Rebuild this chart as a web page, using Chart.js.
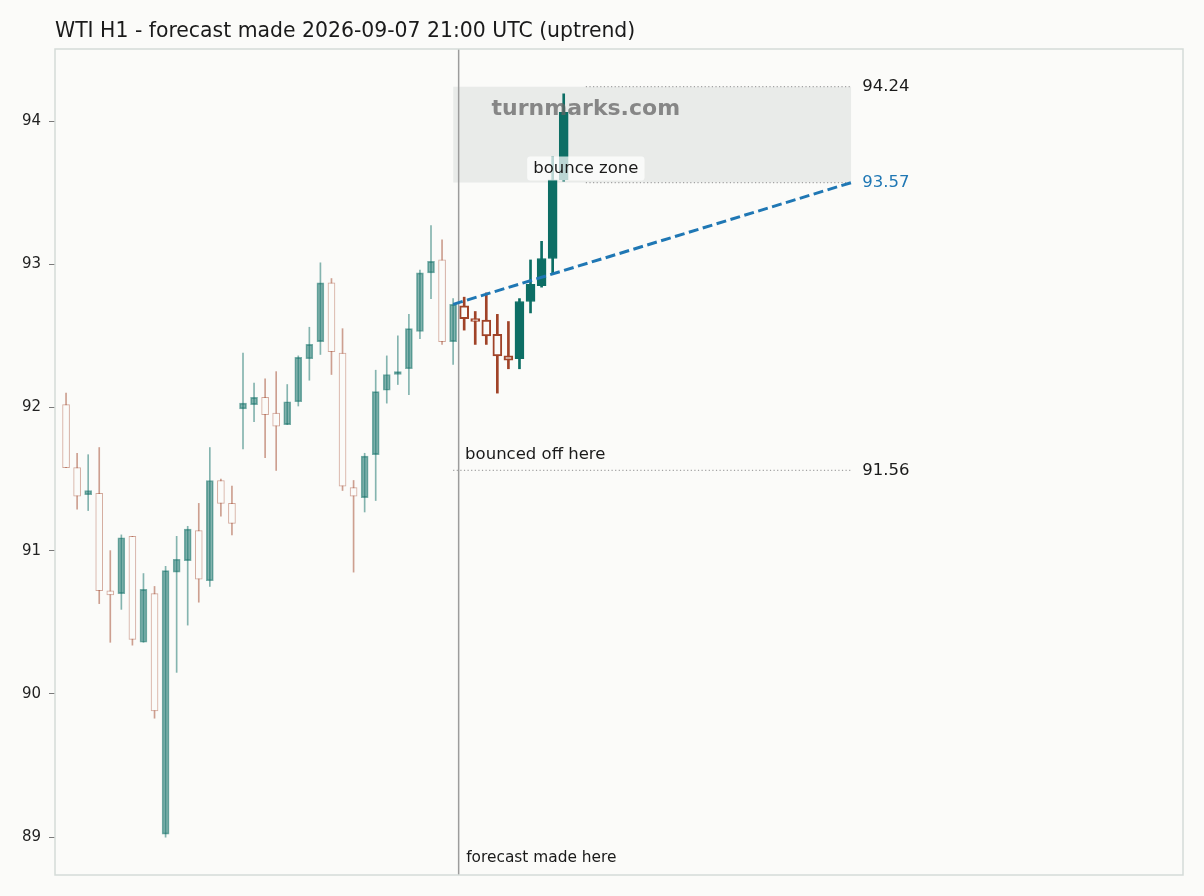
<!DOCTYPE html>
<html>
<head>
<meta charset="utf-8">
<title>WTI H1 forecast</title>
<script src="https://cdn.jsdelivr.net/npm/chart.js@4.4.1/dist/chart.umd.min.js"></script>
<style>
  html, body { margin: 0; padding: 0; background: #fbfbf9; }
  canvas { display: block; }
</style>
</head>
<body>
<canvas id="chart" width="1204" height="896"></canvas>
<script>
// H1 candles, bar index on x. Bars from forecastFrom on are the forecast.
const open  = [92.02, 91.58, 91.39, 91.40, 90.72, 90.70, 91.10, 90.36, 90.70, 89.02,
               90.85, 90.93, 91.14, 90.79, 91.49, 91.33, 91.99, 92.02, 92.07, 91.96,
               91.88, 92.04, 92.34, 92.46, 92.87, 92.38, 91.44, 91.37, 91.67, 92.12,
               92.23, 92.27, 92.53, 92.94, 93.03, 92.46,
               92.71, 92.62, 92.61, 92.51, 92.36, 92.34, 92.74, 92.85, 93.04, 93.59];
const high  = [92.10, 91.68, 91.67, 91.72, 91.00, 91.11, 91.10, 90.84, 90.75, 90.89,
               91.10, 91.17, 91.33, 91.72, 91.50, 91.45, 92.38, 92.17, 92.20, 92.25,
               92.16, 92.36, 92.56, 93.01, 92.90, 92.55, 91.49, 91.68, 92.26, 92.36,
               92.50, 92.65, 92.96, 93.27, 93.17, 92.76,
               92.77, 92.67, 92.80, 92.65, 92.60, 92.76, 93.03, 93.16, 93.75, 94.19];
const low   = [91.58, 91.29, 91.28, 90.63, 90.36, 90.59, 90.34, 90.36, 89.83, 89.00,
               90.15, 90.48, 90.64, 90.75, 91.24, 91.11, 91.71, 91.90, 91.65, 91.56,
               91.88, 92.01, 92.19, 92.37, 92.23, 91.42, 90.85, 91.27, 91.35, 92.03,
               92.16, 92.09, 92.48, 92.76, 92.44, 92.30,
               92.54, 92.44, 92.44, 92.10, 92.27, 92.27, 92.66, 92.84, 92.94, 93.58];
const close = [91.58, 91.38, 91.42, 90.72, 90.69, 91.09, 90.38, 90.73, 89.88, 90.86,
               90.94, 91.15, 90.80, 91.49, 91.33, 91.19, 92.03, 92.07, 91.95, 91.87,
               92.04, 92.35, 92.44, 92.87, 92.39, 91.45, 91.38, 91.66, 92.11, 92.23,
               92.25, 92.55, 92.94, 93.02, 92.46, 92.72,
               92.62, 92.60, 92.50, 92.36, 92.33, 92.74, 92.86, 93.04, 93.59, 94.06];
const forecastFrom = 36;
const forecastLineAt = 35.5;

const yTicks = [89, 90, 91, 92, 93, 94];
const zoneTop = 94.24;
const zoneBottom = 93.57;
const bounceLevel = 91.56;
const zoneX = [35, 71];
const levelLineX = [47, 71];
const trendX = [35, 71];
const trendY = [92.72, 93.57];

const BG = '#fbfbf9';
const TEAL = '13,110,101';
const RED = '160,67,40';
const FONT = "'DejaVu Sans', sans-serif";

function candleSets(from, to, faded) {
  const ids = open.map((_, i) => i).slice(from, to);
  const up = ids.filter(i => close[i] >= open[i]);
  const down = ids.filter(i => close[i] < open[i]);
  const a = faded ? 0.5 : 1;
  const body = faded ? 7 : 9;
  const wick = faded ? 1 : 2;
  const common = { type: 'bar', grouped: false, borderSkipped: false };
  return [
    { ...common, order: 4, barThickness: wick, backgroundColor: `rgba(${TEAL},${a})`,
      data: up.map(i => ({ x: i, y: [low[i], high[i]] })) },
    { ...common, order: 4, barThickness: wick, backgroundColor: `rgba(${RED},${a})`,
      data: down.map(i => ({ x: i, y: [low[i], high[i]] })) },
    { ...common, order: 3, barThickness: body, backgroundColor: `rgba(${TEAL},${a})`,
      borderColor: `rgba(${TEAL},${faded ? 0.55 : 1})`, borderWidth: 1,
      data: up.map(i => ({ x: i, y: [open[i], close[i]] })) },
    { ...common, order: 3, barThickness: body, backgroundColor: BG,
      borderColor: `rgba(${RED},${faded ? 0.45 : 1})`, borderWidth: faded ? 1 : 2,
      data: down.map(i => ({ x: i, y: [close[i], open[i]] })) }
  ];
}

const yMin = 88.735, yMax = 94.503;

const datasets = [
  { type: 'line', order: 9, data: zoneX.map(x => ({ x, y: zoneTop })),
    borderWidth: 0, pointRadius: 0, backgroundColor: 'rgba(225,228,226,0.7)',
    fill: { value: zoneBottom } },
  { type: 'line', order: 8, data: levelLineX.map(x => ({ x, y: zoneTop })),
    borderColor: '#a3a3a3', borderWidth: 1.2, borderDash: [1.2, 2.4], pointRadius: 0 },
  { type: 'line', order: 8, data: levelLineX.map(x => ({ x, y: zoneBottom })),
    borderColor: '#a3a3a3', borderWidth: 1.2, borderDash: [1.2, 2.4], pointRadius: 0 },
  { type: 'line', order: 8, data: zoneX.map(x => ({ x, y: bounceLevel })),
    borderColor: '#a3a3a3', borderWidth: 1.2, borderDash: [1.2, 2.4], pointRadius: 0 },
  { type: 'line', order: 7, data: [{ x: forecastLineAt, y: yMin }, { x: forecastLineAt, y: yMax }],
    borderColor: '#9c9c9c', borderWidth: 1.5, pointRadius: 0 },
  ...candleSets(0, forecastFrom, true),
  ...candleSets(forecastFrom, open.length, false),
  { type: 'line', order: 0, data: trendX.map((x, k) => ({ x, y: trendY[k] })),
    borderColor: '#1f77b4', borderWidth: 3, borderDash: [10, 4.5], pointRadius: 0 }
];

const notes = {
  id: 'notes',
  afterDatasetsDraw(chart) {
    const { ctx, chartArea: ca, scales: { x, y } } = chart;
    ctx.save();
    // plot frame
    ctx.strokeStyle = '#d5dbd8';
    ctx.lineWidth = 1.5;
    ctx.strokeRect(ca.left, ca.top, ca.right - ca.left, ca.bottom - ca.top);

    ctx.textBaseline = 'middle';
    ctx.textAlign = 'left';
    ctx.fillStyle = '#1a1a1a';
    ctx.font = `20.4px ${FONT}`;
    ctx.fillText('WTI H1 - forecast made 2026-09-07 21:00 UTC (uptrend)', ca.left, 32);

    // watermark
    ctx.font = `bold 22px ${FONT}`;
    ctx.textAlign = 'center';
    ctx.fillStyle = 'rgba(100,100,100,0.75)';
    ctx.fillText('turnmarks.com', x.getPixelForValue(levelLineX[0]), y.getPixelForValue(zoneTop) + 23);

    // bounce zone label with light box
    ctx.font = `16.5px ${FONT}`;
    const bx = x.getPixelForValue(levelLineX[0]);
    const by = y.getPixelForValue(zoneBottom) - 14;
    const w = ctx.measureText('bounce zone').width + 12;
    ctx.fillStyle = 'rgba(255,255,255,0.72)';
    ctx.beginPath();
    ctx.roundRect(bx - w / 2, by - 12, w, 24, 3);
    ctx.fill();
    ctx.fillStyle = '#1a1a1a';
    ctx.fillText('bounce zone', bx, by);

    ctx.textAlign = 'left';
    ctx.fillText('bounced off here', x.getPixelForValue(zoneX[0]) + 12, y.getPixelForValue(bounceLevel) - 16);

    const rx = x.getPixelForValue(zoneX[1]) + 11;
    ctx.fillText(zoneTop.toFixed(2), rx, y.getPixelForValue(zoneTop));
    ctx.fillText(bounceLevel.toFixed(2), rx, y.getPixelForValue(bounceLevel));
    ctx.fillStyle = '#1f77b4';
    ctx.fillText(zoneBottom.toFixed(2), rx, y.getPixelForValue(zoneBottom));

    ctx.fillStyle = '#1a1a1a';
    ctx.font = `15.4px ${FONT}`;
    ctx.fillText('forecast made here', x.getPixelForValue(forecastLineAt) + 7.5, ca.bottom - 17);
    ctx.restore();
  }
};

new Chart(document.getElementById('chart').getContext('2d'), {
  type: 'bar',
  data: { datasets },
  options: {
    responsive: false,
    animation: false,
    layout: { padding: { top: 49, right: 21, bottom: 21, left: 0 } },
    plugins: { legend: { display: false }, tooltip: { enabled: false }, title: { display: false } },
    scales: {
      x: { type: 'linear', min: -1, max: 101, offset: false, display: false },
      y: {
        min: yMin, max: yMax,
        afterBuildTicks: s => { s.ticks = yTicks.map(v => ({ value: v })); },
        afterFit: s => { s.width = 55; },
        border: { display: false },
        grid: { drawOnChartArea: false, drawTicks: true, tickLength: 6, tickColor: '#7a7a7a' },
        ticks: { font: { family: FONT, size: 15 }, color: '#222', padding: 8 }
      }
    }
  },
  plugins: [notes]
});
</script>
</body>
</html>
